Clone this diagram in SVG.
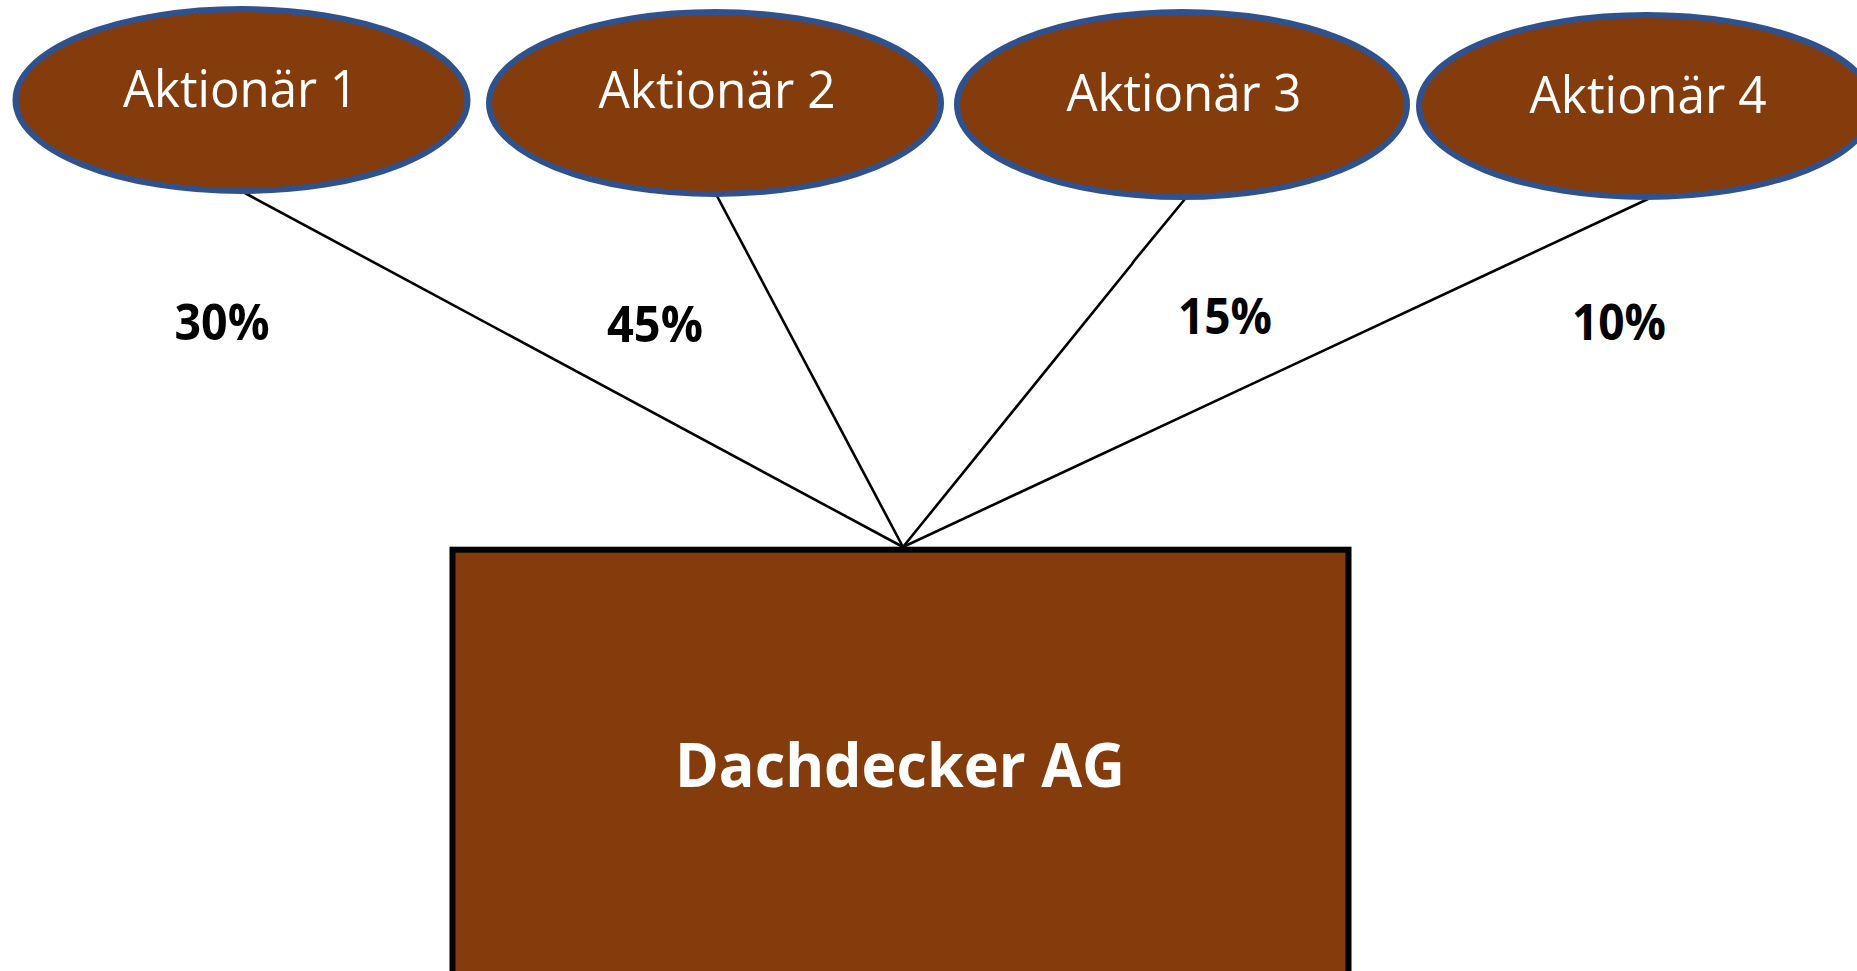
<svg xmlns="http://www.w3.org/2000/svg" width="1857" height="971" viewBox="0 0 1857 971">
<style>
.ell{fill:#843C0C;stroke:#2F528F;stroke-width:6}
.box{fill:#843C0C;stroke:#000;stroke-width:6}
.lbl{font-family:"Open Sans","Noto Sans",sans-serif;font-size:52px;fill:#fff;text-anchor:middle}
.main{font-family:"Open Sans","Noto Sans",sans-serif;font-size:61px;font-weight:bold;fill:#fff;text-anchor:middle}
.pct{font-family:"Open Sans","Noto Sans",sans-serif;font-size:50px;font-weight:bold;fill:#000;text-anchor:middle}
.con{fill:none;stroke:#000;stroke-width:2.6}
</style>
<rect width="1857" height="971" fill="#fff"/>
<g id="connectors">
<line class="con" x1="243" y1="192" x2="903" y2="547"/>
<line class="con" x1="717" y1="196" x2="903" y2="547"/>
<polyline class="con" points="1185,199 1134,261 1132,264 903,547"/>
<line class="con" x1="1648" y1="199" x2="903" y2="547"/>
</g>
<g id="aktionaer1">
<ellipse class="ell" cx="241.5" cy="100" rx="226" ry="91"/>
<text class="lbl" x="240.5" y="107" textLength="235" lengthAdjust="spacingAndGlyphs">Aktionär 1</text>
</g>
<g id="aktionaer2">
<ellipse class="ell" cx="715" cy="103" rx="226" ry="91"/>
<text class="lbl" x="717" y="108" textLength="237" lengthAdjust="spacingAndGlyphs">Aktionär 2</text>
</g>
<g id="aktionaer3">
<ellipse class="ell" cx="1182" cy="104.5" rx="225" ry="92.5"/>
<text class="lbl" x="1184" y="111" textLength="235" lengthAdjust="spacingAndGlyphs">Aktionär 3</text>
</g>
<g id="aktionaer4">
<ellipse class="ell" cx="1646" cy="106" rx="227" ry="91"/>
<text class="lbl" x="1648" y="113" textLength="237" lengthAdjust="spacingAndGlyphs">Aktionär 4</text>
</g>
<g id="dachdecker">
<rect class="box" x="452.5" y="549.7" width="896" height="430"/>
<text class="main" x="900" y="787" textLength="450" lengthAdjust="spacingAndGlyphs">Dachdecker AG</text>
</g>
<g id="labels">
<text class="pct" x="222" y="340" textLength="95" lengthAdjust="spacingAndGlyphs">30%</text>
<text class="pct" x="655" y="342" textLength="96" lengthAdjust="spacingAndGlyphs">45%</text>
<text class="pct" x="1225" y="334" textLength="94" lengthAdjust="spacingAndGlyphs">15%</text>
<text class="pct" x="1619" y="340" textLength="94" lengthAdjust="spacingAndGlyphs">10%</text>
</g>
</svg>
